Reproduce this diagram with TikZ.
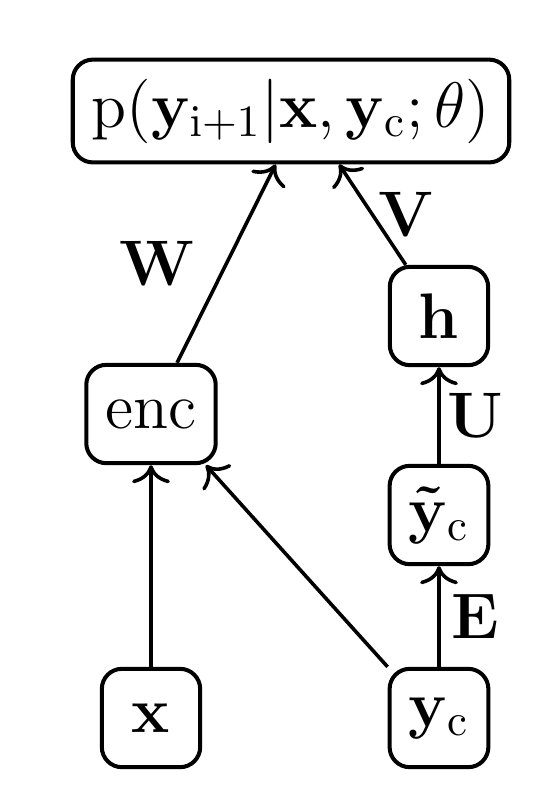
\documentclass[tikz,border=0pt]{standalone}
\usepackage{amsmath}
\usetikzlibrary{arrows.meta}
\begin{document}
\begin{tikzpicture}[x=0.2237pt,y=-0.2237pt,
  box/.style={draw,line width=0.9pt,rounded corners=4.5pt,minimum width=22pt,minimum height=22pt,inner sep=4.3pt,font=\Large},
  wlabel/.style={inner sep=0pt,font=\Large},
  conn/.style={-{To[scale=1.2]},line width=0.8pt}]
\useasboundingbox (0,0) rectangle (538,796);
\node[box] (p) at (291,111) {$\mathrm{p}(\mathbf{y}_{\mathrm{i+1}}|\mathbf{x},\mathbf{y}_{\mathrm{c}};\theta)$};
\node[box] (enc) at (151,414) {enc};
\node[box] (h) at (439,316) {$\mathbf{h}$};
\node[box] (yt) at (439,515) {$\mathbf{\tilde{y}}_{\mathrm{c}}$};
\node[box] (x) at (151,718) {$\mathbf{x}$};
\node[box] (yc) at (439,718) {$\mathbf{y}_{\mathrm{c}}$};
\draw[conn] (x) -- (enc);
\draw[conn] (yc.north west) -- (enc.-43);
\draw[conn] (yc) -- node[wlabel,right=2.5pt] (le) {$\mathbf{E}$} (yt);
\draw[conn] (yt) -- node[wlabel,right=1.5pt] (lu) {$\mathbf{U}$} (h);
\draw[conn] (enc.63) -- node[wlabel,left=6.5pt] (lw) {$\mathbf{W}$} (p.254);
\draw[conn] (h.123) -- node[wlabel,right=1pt] (lv) {$\mathbf{V}$} (p.312);
\end{tikzpicture}
\end{document}
